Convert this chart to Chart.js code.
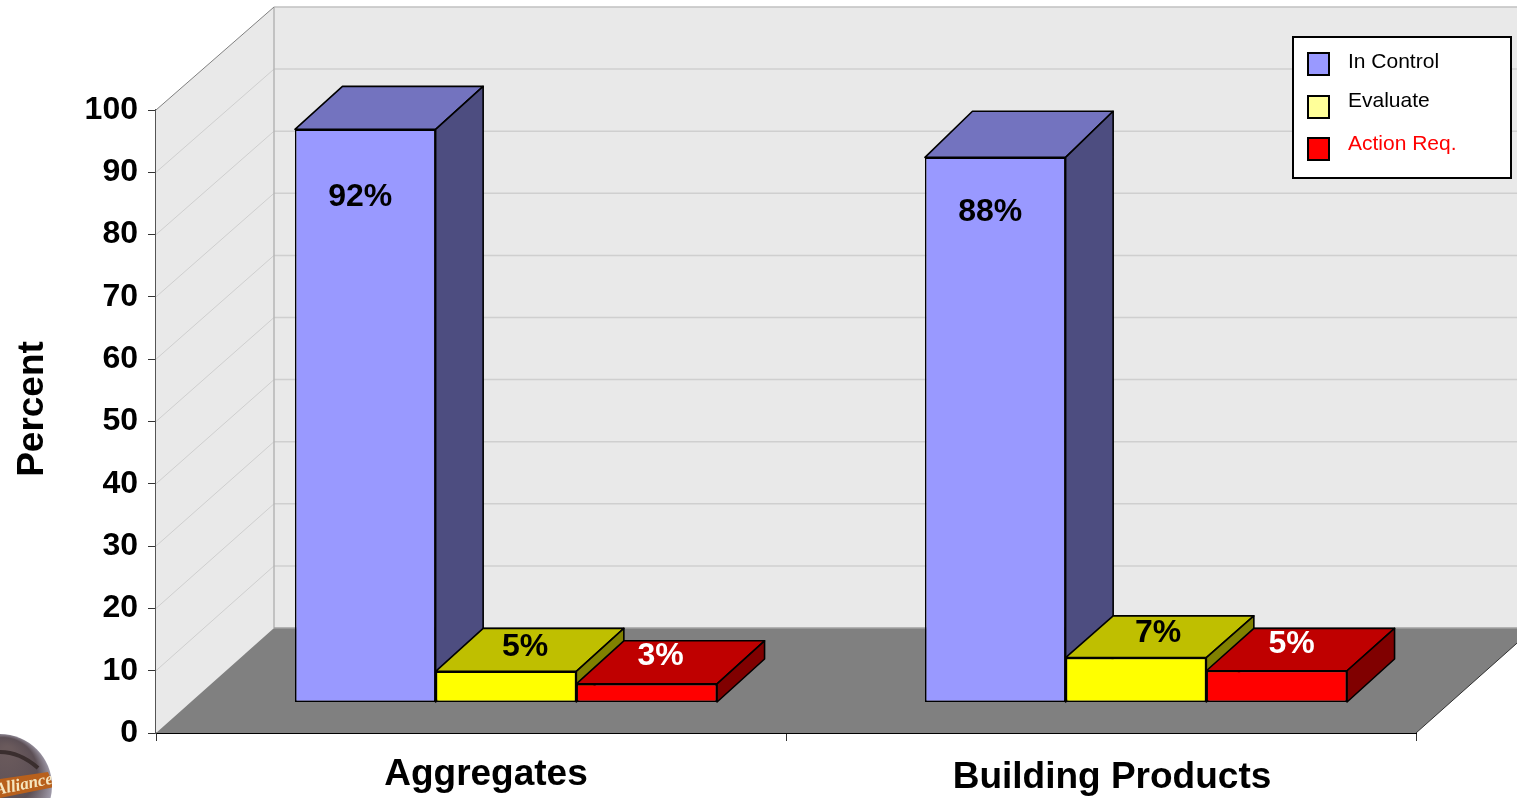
<!DOCTYPE html>
<html>
<head>
<meta charset="utf-8">
<title>Percent by category</title>
<style>
  html, body { margin: 0; padding: 0; background: #fff; overflow: hidden; }
  canvas { display: block; }
</style>
<script src="https://cdn.jsdelivr.net/npm/chart.js@4/dist/chart.umd.min.js"></script>
</head>
<body>
<canvas id="chart" width="1517" height="798"></canvas>
<script>
// ─── Data ───
const categories = ['Aggregates', 'Building Products'];
const seriesNames = ['In Control', 'Evaluate', 'Action Req.'];
const inControl = [92, 87.5];
const evaluate = [5, 7.2];
const actionReq = [3, 5.1];
const yTicks = [0, 10, 20, 30, 40, 50, 60, 70, 80, 90, 100];

// ─── Look ───
const FONT = '"Liberation Sans", Arial, sans-serif';
const FLOOR = { dx: 118, dy: -105 };      // depth of the whole box
const BACK_SCALE = 621 / 623;             // back wall is a touch shorter than the front
const BAR_SHIFT = { dx: 35, dy: -30.5 };  // bars stand inside the box
const BAR_DEPTH = { dx: 47.5, dy: -43 };
const faces = [
  { front: '#9999ff', top: '#7373bf', side: '#4d4d80', swatch: '#9999ff', text: '#000' },
  { front: '#ffff00', top: '#bfbf00', side: '#808000', swatch: '#ffff99', text: '#000' },
  { front: '#ff0000', top: '#bf0000', side: '#800000', swatch: '#ff0000', text: '#fff' },
];
// nudges of the value labels from the bar's top centre, per series then category
const labelNudge = [
  [[-5, 68], [-5, 55]],
  [[19, -24], [22, -24]],
  [[14, -28], [15, -27]],
];
const catLabelPos = [[15, 775], [11, 778]];

function poly(ctx, pts, fill, stroke, lw) {
  ctx.beginPath();
  pts.forEach((p, i) => (i ? ctx.lineTo(p[0], p[1]) : ctx.moveTo(p[0], p[1])));
  ctx.closePath();
  if (fill) { ctx.fillStyle = fill; ctx.fill(); }
  if (stroke) { ctx.strokeStyle = stroke; ctx.lineWidth = lw || 1; ctx.lineJoin = 'round'; ctx.stroke(); }
}

function line(ctx, x1, y1, x2, y2, color, lw) {
  ctx.beginPath();
  ctx.moveTo(x1, y1);
  ctx.lineTo(x2, y2);
  ctx.strokeStyle = color;
  ctx.lineWidth = lw;
  ctx.stroke();
}

function text(ctx, str, x, y, font, color, align) {
  ctx.font = font;
  ctx.fillStyle = color;
  ctx.textAlign = align || 'center';
  ctx.textBaseline = 'middle';
  ctx.fillText(str, x, y);
}

// ─── Box behind the bars ───
function drawBox(chart) {
  const { ctx, chartArea: a, scales } = chart;
  const { dx, dy } = FLOOR;
  const y0 = scales.y.getPixelForValue(0);
  const yMax = scales.y.getPixelForValue(100);
  const backY = (y) => y0 + dy + (y - y0) * BACK_SCALE;
  const top = backY(yMax);
  ctx.save();
  poly(ctx, [[a.left + dx, top], [1517, top], [1517, y0 + dy], [a.left + dx, y0 + dy]], '#e9e9e9');
  poly(ctx, [[a.left, y0], [a.left, yMax], [a.left + dx, top], [a.left + dx, y0 + dy]], '#e9e9e9');
  yTicks.forEach((v) => {
    if (v === 0 || v === 100) return;
    const y = scales.y.getPixelForValue(v);
    line(ctx, a.left, y, a.left + dx, backY(y), '#cfcfcf', 1);
    line(ctx, a.left + dx, backY(y), 1517, backY(y), '#cfcfcf', 1.5);
  });
  line(ctx, a.left + dx, top, 1517, top, '#c0c0c0', 1.5);
  line(ctx, a.left + dx, top, a.left + dx, y0 + dy, '#b4b4b4', 1.5);
  line(ctx, a.left, yMax, a.left + dx, top, '#808080', 1);
  poly(ctx, [[a.left, y0], [a.right, y0], [a.right + dx, y0 + dy], [a.left + dx, y0 + dy]], '#808080');
  line(ctx, a.left + dx, y0 + dy, 1517, y0 + dy, '#a0a0a0', 1.5);
  line(ctx, a.right, y0, a.right + dx, y0 + dy, '#333', 1);
  ctx.restore();
}

// top and side faces go down left to right, the library then draws the fronts
function drawBarFaces(chart) {
  const { ctx, scales } = chart;
  const { dx, dy } = BAR_DEPTH;
  categories.forEach((c, j) => {
    faces.forEach((f, i) => {
      const bar = chart.getDatasetMeta(i).data[j];
      const l = bar.x - bar.width / 2;
      const r = bar.x + bar.width / 2;
      // the back edge sits on the rounded value, as in the original
      const back = scales.y.getPixelForValue(Math.round(chart.data.datasets[i].data[j])) + dy;
      poly(ctx, [[l, bar.y], [l + dx, back], [r + dx, back], [r, bar.y]], f.top, '#000', 1.6);
      poly(ctx, [[r, bar.y], [r + dx, back], [r + dx, bar.base + dy], [r, bar.base]], f.side, '#000', 1.6);
    });
  });
}

// ─── Small globe logo, cut by the page corner ───
function drawLogo(ctx) {
  ctx.save();
  ctx.beginPath();
  ctx.arc(0, 786, 52, 0, Math.PI * 2);
  ctx.clip();
  const g = ctx.createRadialGradient(8, 750, 4, 0, 786, 54);
  g.addColorStop(0, '#6a5a5c');
  g.addColorStop(0.6, '#5c4f55');
  g.addColorStop(1, '#a8a4b4');
  ctx.fillStyle = g;
  ctx.fillRect(0, 730, 60, 68);
  ctx.strokeStyle = '#3a2e2e';
  ctx.lineWidth = 4;
  ctx.beginPath();
  ctx.moveTo(0, 752);
  ctx.quadraticCurveTo(20, 752, 38, 768);
  ctx.stroke();
  poly(ctx, [[0, 779], [48, 772], [54, 787], [0, 798]], '#b8601c');
  ctx.translate(24, 785);
  ctx.rotate(-0.2);
  text(ctx, 'Alliance', 0, 0, 'bold italic 17px "Liberation Serif", serif', '#f6e6c0');
  ctx.restore();
}

// ─── Legend box ───
function drawLegend(ctx) {
  ctx.save();
  ctx.fillStyle = '#fff';
  ctx.fillRect(1293, 37, 218, 141);
  ctx.strokeStyle = '#000';
  ctx.lineWidth = 2;
  ctx.strokeRect(1293, 37, 218, 141);
  const swatchY = [53, 96, 138];
  const textY = [62, 101, 144];
  seriesNames.forEach((name, i) => {
    ctx.fillStyle = faces[i].swatch;
    ctx.fillRect(1308, swatchY[i], 21, 22);
    ctx.strokeRect(1308, swatchY[i], 21, 22);
    text(ctx, name, 1348, textY[i], `21px ${FONT}`, i === 2 ? '#ff0000' : '#000', 'left');
  });
  ctx.restore();
}

const box3d = {
  id: 'box3d',
  beforeDatasetsDraw(chart) {
    drawBox(chart);
    chart.ctx.save();
    chart.ctx.translate(BAR_SHIFT.dx, BAR_SHIFT.dy);
    drawBarFaces(chart);
  },
  afterDatasetsDraw(chart) {
    const { ctx } = chart;
    ctx.restore();
    // value labels
    chart.data.datasets.forEach((ds, i) => {
      chart.getDatasetMeta(i).data.forEach((bar, j) => {
        const [nx, ny] = labelNudge[i][j];
        text(ctx, `${Math.round(ds.data[j])}%`, bar.x + BAR_SHIFT.dx + nx, bar.y + BAR_SHIFT.dy + ny,
          `bold 32px ${FONT}`, faces[i].text);
      });
    });
    drawLegend(ctx);
  },
  afterDraw(chart) {
    const { ctx, scales } = chart;
    categories.forEach((c, i) => {
      text(ctx, c, scales.x.getPixelForValue(i) + catLabelPos[i][0], catLabelPos[i][1], `bold 37px ${FONT}`, '#000');
    });
    ctx.save();
    ctx.translate(33, 409);
    ctx.rotate(-Math.PI / 2);
    text(ctx, 'Percent', 0, 0, `bold 37px ${FONT}`, '#000');
    ctx.restore();
    drawLogo(ctx);
  },
};

// ─── Chart ───
new Chart(document.getElementById('chart'), {
  type: 'bar',
  data: {
    labels: categories,
    datasets: [inControl, evaluate, actionReq].map((values, i) => ({
      label: seriesNames[i],
      data: values,
      backgroundColor: faces[i].front,
      borderColor: '#000',
      borderWidth: 1.6,
      borderSkipped: false,
      clip: false,
      categoryPercentage: 0.67,
      barPercentage: 1,
    })),
  },
  options: {
    responsive: false,
    animation: false,
    layout: { padding: { top: 110, right: 101, left: 0, bottom: 0 } },
    plugins: { legend: { display: false }, title: { display: false }, tooltip: { enabled: false } },
    scales: {
      x: {
        afterFit: (s) => { s.height = 65; },
        border: { color: '#000', width: 2 },
        grid: { drawOnChartArea: false, tickLength: 8, color: '#333' },
        ticks: { display: false },
      },
      y: {
        min: 0,
        max: 100,
        afterFit: (s) => { s.width = 156; },
        border: { color: '#555', width: 1.5 },
        grid: { drawOnChartArea: false, tickLength: 8, color: '#333' },
        afterBuildTicks: (s) => { s.ticks = yTicks.map((value) => ({ value })); },
        ticks: { padding: 10, color: '#000', font: { family: FONT, size: 32, weight: 'bold' } },
      },
    },
  },
  plugins: [box3d],
});
</script>
</body>
</html>
